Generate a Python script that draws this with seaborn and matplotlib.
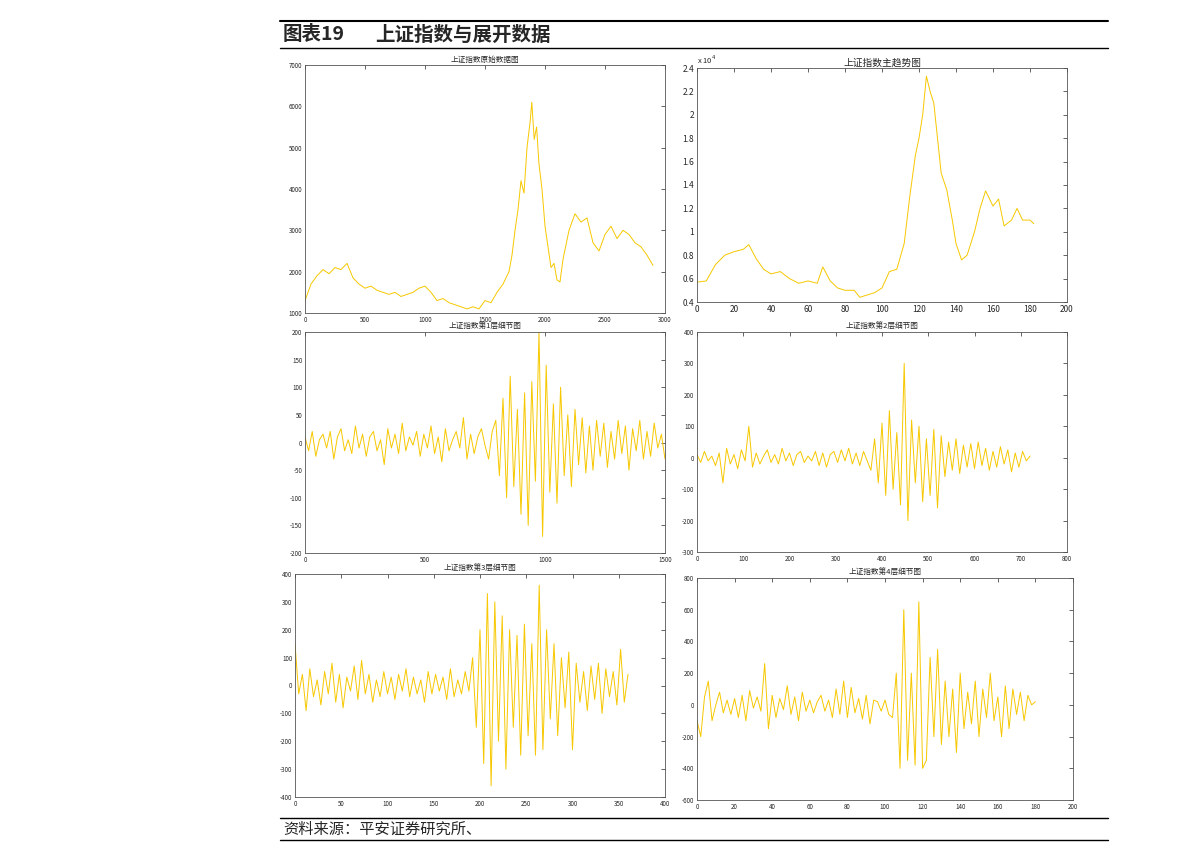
import matplotlib
matplotlib.use("Agg")
import matplotlib.pyplot as plt
import seaborn as sns
import numpy as np

sns.set_theme(style="white")
plt.rcParams['font.family'] = ['Noto Sans CJK SC', 'DejaVu Sans']
plt.rcParams['axes.unicode_minus'] = False

# ---- data ----
raw_x = [0,50,100,150,200,250,300,350,400,450,500,550,600,650,700,750,800,850,900,950,1000,1050,1100,1150,1200,1250,1300,1350,1400,1450,1500,1550,1600,1650,1700,1725,1750,1775,1800,1825,1850,1875,1890,1910,1930,1950,1975,2000,2025,2050,2075,2100,2125,2150,2200,2250,2300,2350,2400,2450,2500,2550,2600,2650,2700,2750,2800,2850,2900]
raw_y = [1300,1700,1900,2050,1950,2100,2050,2200,1850,1700,1600,1650,1550,1500,1450,1500,1400,1450,1500,1600,1650,1500,1300,1350,1250,1200,1150,1100,1150,1100,1300,1250,1500,1700,2000,2400,3000,3500,4200,3900,5000,5600,6100,5200,5500,4600,4000,3100,2600,2100,2200,1800,1750,2300,3000,3400,3200,3300,2700,2500,2900,3100,2800,3000,2900,2700,2600,2400,2150]

trend_x = [0,5,10,15,20,25,28,32,36,40,45,50,55,60,65,68,72,76,80,85,88,92,96,100,104,108,112,115,118,120,122,124,126,128,130,132,135,138,140,143,146,150,153,156,160,163,166,170,173,176,180,182]
trend_y = [0.57,0.58,0.72,0.8,0.83,0.85,0.89,0.77,0.68,0.64,0.66,0.6,0.56,0.58,0.56,0.7,0.58,0.52,0.5,0.5,0.44,0.46,0.48,0.52,0.66,0.68,0.9,1.3,1.65,1.8,2.0,2.33,2.2,2.1,1.8,1.5,1.36,1.1,0.9,0.76,0.8,1.0,1.2,1.35,1.22,1.28,1.05,1.1,1.2,1.1,1.1,1.07]

d1 = [10,-15,20,-25,5,15,-10,20,-30,10,25,-15,5,-20,30,-10,15,-25,10,20,-15,5,-40,25,-10,15,-20,35,-15,10,-5,20,-25,15,-10,30,-20,10,-35,25,-15,5,20,-10,45,-30,15,-20,10,25,-5,-30,20,40,-60,80,-100,120,-80,60,-130,90,-150,110,-70,200,-170,140,-90,70,-110,100,-60,50,-80,60,-40,45,-55,30,-50,40,-25,35,-45,20,-30,40,-20,30,-50,25,-15,40,-30,20,-25,35,-10,15,-30,10]
d2 = [10,-15,20,-10,5,-25,15,-80,30,-20,10,-35,25,-10,100,-30,15,-20,5,25,-15,10,-20,30,-10,15,-25,10,20,-15,5,-10,20,-25,15,-30,10,20,-15,25,-10,30,-20,15,-25,20,-10,-40,60,-80,110,-120,150,-100,80,-150,300,-200,120,-80,100,-140,60,-120,90,-160,70,-60,50,-40,60,-50,40,-30,45,-35,50,-25,30,-40,20,-30,35,-20,25,-45,15,-30,20,-10,5]
d3 = [150,-30,40,-90,60,-40,20,-70,50,-30,80,-60,40,-80,30,-20,70,-50,90,-30,40,-60,20,-40,50,-30,30,-50,40,-20,60,-40,30,-30,20,-60,50,-30,40,-20,30,-50,60,-40,20,-30,50,-20,100,-150,200,-280,330,-360,300,-200,250,-300,200,-150,180,-250,220,-180,150,-250,360,-230,200,-120,150,-180,100,-80,120,-230,80,-60,50,-90,70,-50,80,-100,60,-40,50,-70,130,-60,40]
d4 = [-100,-200,50,150,-100,0,80,-50,30,-60,40,-80,60,-100,90,-20,50,-40,260,-150,60,-80,40,-30,120,-60,50,-100,80,-40,30,-50,20,60,-40,30,-80,100,-60,150,-80,110,-50,40,-90,60,-120,30,20,-40,30,-60,-80,200,-400,600,-350,200,-380,650,-400,-350,300,-200,350,-250,150,-200,100,-300,200,-150,80,-120,150,-200,100,-80,200,-100,50,-200,120,-150,100,-60,80,-100,60,0,20]
x2 = [i * 8 for i in range(len(d2))]
x1 = [i * 15 for i in range(len(d1))]
x3 = [i * 4 for i in range(len(d3))]
x4 = [i * 2 for i in range(len(d4))]

titles = ["上证指数原始数据图", "上证指数主趋势图", "上证指数第1层细节图",
          "上证指数第2层细节图", "上证指数第3层细节图", "上证指数第4层细节图"]

W, H = 1191, 860
fig = plt.figure(figsize=(W/100, H/100), dpi=100)
col = "#F7C800"

def ax_at(x0, y0, x1_, y1_):
    return fig.add_axes([x0/W, 1-y1_/H, (x1_-x0)/W, (y1_-y0)/H])

boxes = [(305,65,665,313),(697,68,1067,302),(305,332,665,553),
         (697,332,1067,552),(295,574,665,797),(697,578,1073,800)]
series = [(raw_x,raw_y),(trend_x,trend_y),(x1,d1),(x2,d2),(x3,d3),(x4,d4)]
xlims = [(0,3000),(0,200),(0,1500),(0,800),(0,400),(0,200)]
xt = [range(0,3001,500),range(0,201,20),range(0,1501,500),range(0,801,100),range(0,401,50),range(0,201,20)]
ylims = [(1000,7000),(0.4,2.4),(-200,200),(-300,400),(-400,400),(-600,800)]
yt = [range(1000,7001,1000),np.arange(0.4,2.41,0.2),range(-200,201,50),range(-300,401,100),range(-400,401,100),range(-600,801,200)]

for i,(b,(xs,ys)) in enumerate(zip(boxes,series)):
    ax = ax_at(*b)
    sns.lineplot(x=xs, y=ys, ax=ax, color=col, linewidth=0.7)
    ax.set_xlim(*xlims[i]); ax.set_ylim(*ylims[i])
    ax.set_xticks(list(xt[i])); ax.set_yticks(list(yt[i]))
    fs = 6 if i == 1 else 4.5
    if i == 1:
        ax.set_yticklabels([f"{v:g}" for v in np.round(np.arange(0.4,2.41,0.2),1)])
        ax.text(0, 1.01, "x 10$^4$", transform=ax.transAxes, fontsize=5.5, ha='left', va='bottom')
    ax.tick_params(direction='in', length=3, labelsize=fs, top=True, right=True, pad=2, width=0.5)
    for s in ax.spines.values():
        s.set_linewidth(0.6); s.set_color('#555555')
    ax.set_title(titles[i], fontsize=5.5 if i != 1 else 7, pad=2)

# header and footer
for y, lw in [(21,1.5),(48,1.0),(818,1.0),(840,1.0)]:
    fig.add_artist(plt.Line2D([280/W,1108/W],[1-y/H,1-y/H], color='black', linewidth=lw))
fig.text(283/W, 1-35/H, "图表19", fontsize=14, fontweight='bold', va='center')
fig.text(375/W, 1-35/H, "上证指数与展开数据", fontsize=14, fontweight='bold', va='center')
fig.text(283/W, 1-829/H, "资料来源：平安证券研究所、", fontsize=11, style='italic', va='center')

fig.savefig("out.png", dpi=100)
